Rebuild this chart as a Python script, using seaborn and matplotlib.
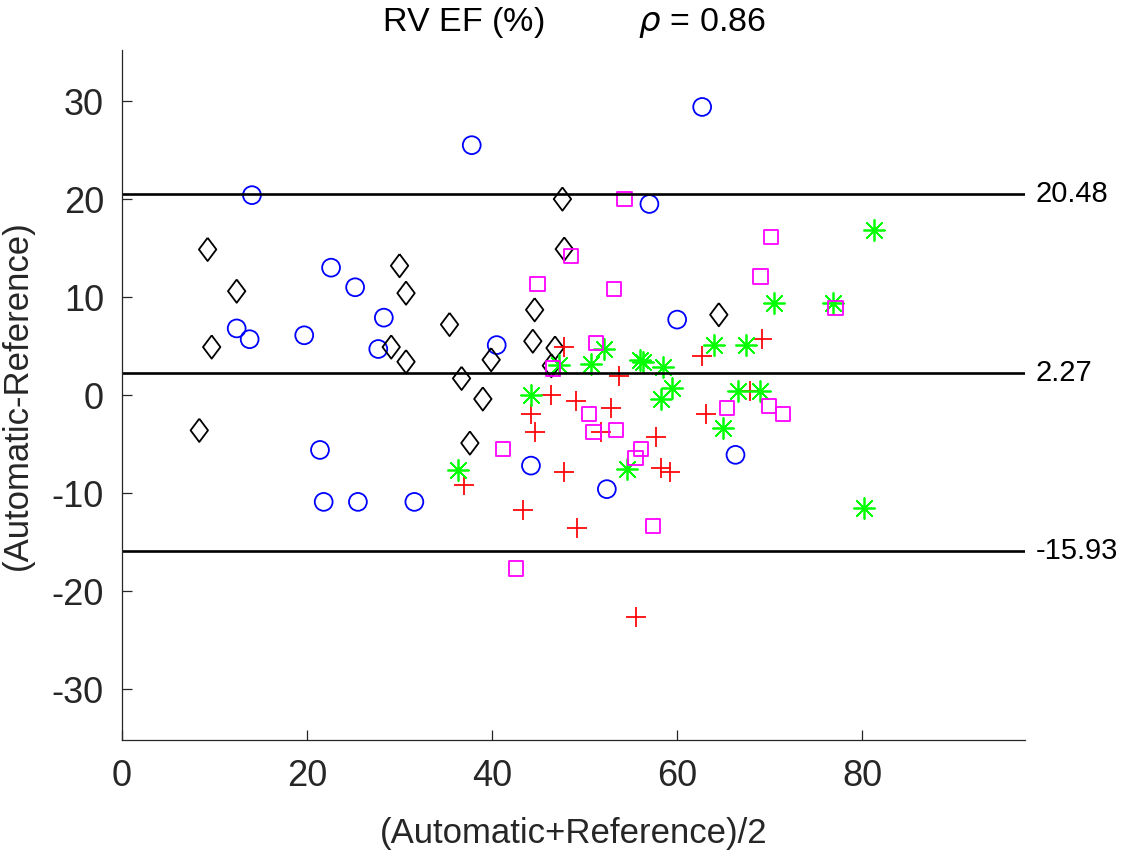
import matplotlib
matplotlib.use("Agg")
import matplotlib.pyplot as plt
import seaborn as sns
import pandas as pd

# Bland-Altman data
blue_x = [14.05, 37.8, 62.7, 57.0, 12.4, 13.8, 19.7, 22.6, 25.2, 28.3,
          27.7, 40.5, 60.0, 21.4, 21.8, 25.5, 31.6, 44.2, 52.4, 66.3]
blue_y = [20.4, 25.5, 29.4, 19.5, 6.8, 5.7, 6.1, 13.0, 11.0, 7.9,
          4.7, 5.1, 7.7, -5.6, -10.9, -10.9, -10.9, -7.2, -9.6, -6.1]

black_x = [9.26, 12.4, 9.7, 8.36, 30.0, 30.7, 29.1, 30.7, 35.4, 36.7,
           39.9, 39.0, 37.6, 47.6, 47.8, 44.6, 44.4, 46.8, 46.4, 64.5]
black_y = [14.86, 10.6, 4.9, -3.6, 13.2, 10.4, 4.9, 3.4, 7.2, 1.7,
           3.6, -0.4, -4.9, 20.0, 14.9, 8.7, 5.5, 4.8, 3.0, 8.2]

red_x = [47.8, 62.7, 69.2, 53.7, 46.4, 49.1, 52.8, 44.2, 44.6, 51.8,
         57.7, 63.1, 67.9, 47.8, 58.2, 59.2, 43.3, 49.2, 55.6, 37.0]
red_y = [4.9, 4.0, 5.7, 1.9, 0.0, -0.6, -1.3, -1.9, -3.8, -3.8,
         -4.3, -1.9, 0.4, -7.9, -7.4, -7.9, -11.7, -13.6, -22.6, -9.2]

green_x = [81.3, 70.5, 76.8, 64.0, 67.4, 52.1, 50.7, 56.0, 56.3, 58.5,
           47.2, 59.4, 58.3, 66.6, 68.9, 64.9, 44.2, 54.6, 80.2, 36.3]
green_y = [16.8, 9.4, 9.4, 5.1, 5.1, 4.7, 3.2, 3.6, 3.4, 2.9,
           3.1, 0.7, -0.4, 0.4, 0.4, -3.4, 0.0, -7.5, -11.5, -7.65]

magenta_x = [54.3, 48.5, 44.9, 53.2, 70.1, 69.0, 77.1, 51.2, 46.6, 50.5,
             50.96, 53.4, 56.1, 55.5, 41.2, 57.4, 42.6, 65.4, 69.9, 71.4]
magenta_y = [20.0, 14.2, 11.3, 10.8, 16.1, 12.1, 8.9, 5.3, 2.7, -1.9,
             -3.8, -3.6, -5.5, -6.4, -5.5, -13.4, -17.7, -1.3, -1.1, -1.9]

mean_diff = 2.27
upper_loa = 20.48
lower_loa = -15.93
rho = 0.86

sns.set_style("ticks")
plt.rcParams['font.family'] = ['Liberation Sans', 'DejaVu Sans']
plt.rcParams['mathtext.fontset'] = 'dejavusans'
plt.rcParams['axes.unicode_minus'] = False

fig = plt.figure(figsize=(11.29, 8.64), dpi=100)
ax = fig.add_axes([0.108, 0.1435, 0.8, 0.7985])

diamond = [(0, 1), (0.75, 0), (0, -1), (-0.75, 0), (0, 1)]

# hollow markers
filled_groups = [
    (blue_x, blue_y, 'o', '#0000ff', 165),
    (black_x, black_y, diamond, 'black', 280),
]
for gx, gy, mk, col, size in filled_groups:
    df = pd.DataFrame({'x': gx, 'y': gy})
    sns.scatterplot(data=df, x='x', y='y', marker=mk, s=size,
                    facecolor='none', edgecolor=col, linewidth=1.3, ax=ax)

# line markers
line_groups = [
    (red_x, red_y, '+', '#ff0000', 220),
    (green_x, green_y, (8, 2, 0), '#00ff00', 230),
]
for gx, gy, mk, col, size in line_groups:
    df = pd.DataFrame({'x': gx, 'y': gy})
    sns.scatterplot(data=df, x='x', y='y', marker=mk, s=size,
                    color=col, linewidth=1.25, ax=ax)

df = pd.DataFrame({'x': magenta_x, 'y': magenta_y})
sns.scatterplot(data=df, x='x', y='y', marker='s', s=105,
                facecolor='none', edgecolor='#ff00ff', linewidth=1.3, ax=ax)

for val in [upper_loa, mean_diff, lower_loa]:
    ax.axhline(val, color='black', linewidth=1.9)
    ax.text(1.012, val, f'{val:.2f}', transform=ax.get_yaxis_transform(),
            va='center', ha='left', fontsize=21, color='black')

ax.set_xlim(0, 97.6)
ax.set_ylim(-35.2, 35.2)
ax.set_xticks([0, 20, 40, 60, 80])
ax.set_yticks([-30, -20, -10, 0, 10, 20, 30])

sns.despine(ax=ax)
for side in ['left', 'bottom']:
    ax.spines[side].set_color('#262626')
    ax.spines[side].set_linewidth(0.9)
ax.tick_params(axis='both', direction='in', length=7, width=0.9,
               color='#262626', labelcolor='#262626', labelsize=26)
ax.tick_params(axis='x', pad=14)
ax.tick_params(axis='y', pad=13)

ax.set_xlabel('(Automatic+Reference)/2', fontsize=25, color='#262626')
ax.set_ylabel('(Automatic-Reference)', fontsize=25, color='#262626')
ax.xaxis.set_label_coords(0.5, -0.112)
ax.yaxis.set_label_coords(-0.097, 0.5)
ax.set_title(f'RV EF (%)          $\\rho$ = {rho:.2f}', fontsize=24.5, pad=14,
             color='black')

fig.savefig('out.png', dpi=100)
